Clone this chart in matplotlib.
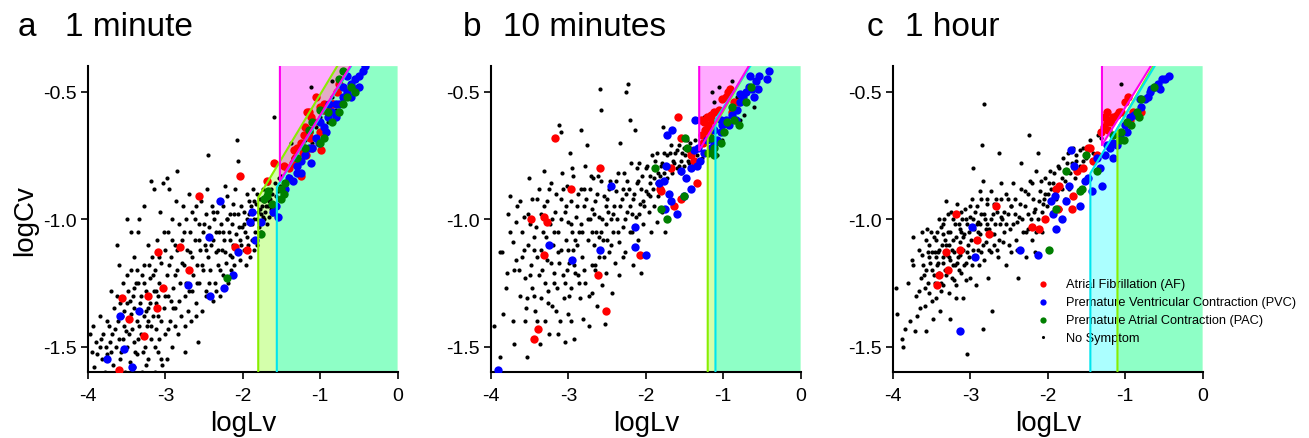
import numpy as np
import matplotlib
matplotlib.use("Agg")
import matplotlib.pyplot as plt

plt.rcParams['font.family'] = ['Liberation Sans', 'DejaVu Sans']
plt.rcParams['axes.unicode_minus'] = False

# ---------------- data (logLv, logCv) ----------------
panel_letters = ['a', 'b', 'c']
panel_titles = ['1 minute', '10 minutes', '1 hour']

# thresholds: vertical x, corner y, x where the diagonal meets the top (y=-0.4)
af_bound = [(-1.52, -0.85, -0.61), (-1.31, -0.73, -0.67), (-1.30, -0.71, -0.67)]
pac_bound = [(-1.80, -0.915, -0.78), (-1.20, -0.68, -0.66), (-1.10, -0.645, -0.64)]
pvc_bound = [(-1.56, -0.875, -0.60), (-1.10, -0.61, -0.65), (-1.45, -0.82, -0.62)]

# panel a : 1 minute
a_af = [(-1.60, -0.78), (-2.04, -0.83), (-2.57, -0.91), (-2.81, -1.11), (-3.10, -1.13), (-2.69, -1.20),
        (-3.03, -1.27), (-3.22, -1.30), (-3.56, -1.31), (-3.11, -1.35), (-3.47, -1.39), (-3.28, -1.46),
        (-3.60, -1.59), (-2.10, -1.11), (-1.95, -1.12), (-1.69, -0.85), (-1.47, -0.79), (-1.34, -0.73),
        (-1.21, -0.67), (-1.18, -0.75), (-0.99, -0.73), (-0.97, -0.57), (-0.83, -0.55), (-1.15, -0.58),
        (-1.17, -0.58), (-1.12, -0.60), (-1.08, -0.62), (-1.20, -0.64), (-1.15, -0.66), (-1.25, -0.70),
        (-1.30, -0.72), (-1.22, -0.74), (-1.35, -0.78), (-1.40, -0.80), (-1.00, -0.56), (-0.95, -0.55),
        (-1.05, -0.52), (-0.85, -0.55), (-0.90, -0.57), (-1.10, -0.72), (-1.25, -0.83), (-1.32, -0.76),
        (-1.00, -0.66), (-1.13, -0.68), (-0.78, -0.50), (-0.75, -0.47)]
a_pvc = [(-2.30, -0.93), (-2.43, -1.07), (-1.88, -0.97), (-1.90, -1.01), (-1.84, -1.08), (-1.76, -1.01),
         (-2.06, -1.13), (-2.12, -1.22), (-2.24, -1.27), (-2.42, -1.30), (-2.71, -1.26), (-3.34, -1.36),
         (-3.58, -1.38), (-3.53, -1.51), (-3.76, -1.55), (-3.43, -1.58), (-1.61, -0.97), (-1.55, -0.99),
         (-1.57, -0.95), (-1.45, -0.88), (-1.40, -0.84), (-1.30, -0.79), (-1.20, -0.75), (-1.25, -0.77),
         (-1.10, -0.72), (-1.05, -0.68), (-0.95, -0.64), (-1.00, -0.62), (-0.90, -0.60), (-0.85, -0.58),
         (-0.80, -0.55), (-0.70, -0.52), (-0.65, -0.50), (-0.60, -0.47), (-0.55, -0.45), (-0.50, -0.44),
         (-0.45, -0.42), (-0.42, -0.40), (-0.60, -0.52), (-0.55, -0.49), (-0.70, -0.48), (-0.75, -0.55),
         (-1.15, -0.72), (-1.30, -0.82), (-1.35, -0.85), (-0.50, -0.48), (-0.65, -0.44), (-0.80, -0.60),
         (-0.88, -0.55), (-1.25, -0.82), (-1.02, -0.70), (-1.12, -0.78), (-0.92, -0.66)]
a_pac = [(-2.20, -1.23), (-1.72, -0.92), (-1.69, -0.91), (-1.76, -1.06), (-1.51, -0.92), (-1.47, -0.90),
         (-1.50, -0.88), (-1.45, -0.86), (-1.20, -0.72), (-1.00, -0.70), (-0.95, -0.68), (-1.10, -0.62),
         (-0.90, -0.58), (-0.75, -0.58), (-0.70, -0.55), (-0.65, -0.52), (-0.60, -0.48), (-0.55, -0.50),
         (-0.75, -0.45), (-1.15, -0.65), (-1.30, -0.76), (-0.85, -0.62), (-0.70, -0.42), (-1.00, -0.57),
         (-1.62, -0.94), (-1.68, -0.89)]
a_none = [(-3.98, -1.45), (-3.95, -1.52), (-3.90, -1.48), (-3.92, -1.58), (-3.85, -1.50), (-3.82, -1.55),
          (-3.80, -1.45), (-3.78, -1.60), (-3.75, -1.40), (-3.72, -1.48), (-3.70, -1.52), (-3.68, -1.57),
          (-3.66, -1.35), (-3.65, -1.43), (-3.62, -1.30), (-3.60, -1.47), (-3.58, -1.55), (-3.56, -1.38),
          (-3.55, -1.25), (-3.54, -1.42), (-3.52, -1.60), (-3.50, -1.33), (-3.50, -1.50), (-3.48, -1.28),
          (-3.47, -1.45), (-3.46, -1.56), (-3.45, -1.20), (-3.44, -1.37), (-3.50, -1.00), (-3.42, -1.30),
          (-3.41, -1.48), (-3.40, -1.15), (-3.40, -1.58), (-3.38, -1.25), (-3.37, -1.40), (-3.36, -1.53),
          (-3.35, -1.05), (-3.34, -1.00), (-3.33, -1.33), (-3.32, -1.45), (-3.30, -1.22), (-3.30, -1.60),
          (-3.28, -1.38), (-3.27, -1.18), (-3.26, -1.50), (-3.25, -1.28), (-3.24, -1.42), (-3.23, -1.10),
          (-3.22, -1.55), (-3.20, -1.33), (-3.20, -1.23), (-3.19, -1.47), (-3.18, -0.85), (-3.17, -1.15),
          (-3.16, -1.38), (-3.15, -1.28), (-3.14, -1.60), (-3.13, -1.20), (-3.12, -1.43), (-3.11, -1.08),
          (-3.10, -1.52), (-3.09, -1.30), (-3.08, -1.25), (-3.07, -0.97), (-3.06, -1.40), (-3.05, -1.17),
          (-3.04, -1.57), (-3.03, -0.86), (-3.02, -1.35), (-3.01, -1.12), (-3.00, -1.45), (-2.98, -1.22),
          (-2.97, -1.05), (-2.96, -1.30), (-2.95, -0.88), (-2.94, -1.40), (-2.93, -1.15), (-2.92, -1.50),
          (-2.91, -1.00), (-2.90, -1.27), (-2.88, -1.10), (-2.87, -1.35), (-2.86, -0.93), (-2.85, -1.20),
          (-2.84, -1.45), (-2.83, -1.02), (-2.85, -0.81), (-2.81, -1.25), (-2.80, -1.38), (-2.78, -1.08),
          (-2.77, -0.95), (-2.76, -1.18), (-2.75, -1.30), (-2.74, -1.52), (-2.73, -1.00), (-2.72, -1.12),
          (-2.70, -0.90), (-2.69, -1.28), (-2.68, -1.05), (-2.67, -1.40), (-2.66, -1.15), (-2.65, -0.97),
          (-2.64, -1.22), (-2.62, -1.08), (-2.61, -1.33), (-2.60, -0.95), (-2.59, -1.18), (-2.58, -1.48),
          (-2.57, -1.02), (-2.56, -1.25), (-2.55, -1.12), (-2.54, -0.93), (-2.53, -1.36), (-2.52, -1.05),
          (-2.51, -1.20), (-2.49, -1.10), (-2.48, -0.98), (-2.47, -1.28), (-2.46, -0.88), (-2.45, -1.15),
          (-2.45, -0.75), (-2.43, -1.03), (-2.42, -1.20), (-2.40, -0.95), (-2.39, -1.32), (-2.38, -1.08),
          (-2.37, -1.00), (-2.36, -1.25), (-2.35, -1.13), (-2.33, -0.97), (-2.32, -1.18), (-2.31, -1.05),
          (-2.30, -1.30), (-2.28, -1.02), (-2.27, -1.12), (-2.26, -0.95), (-2.25, -1.22), (-2.24, -1.08),
          (-2.23, -0.87), (-2.22, -1.17), (-2.21, -1.00), (-2.20, -0.91), (-2.19, -1.25), (-2.18, -1.05),
          (-2.17, -0.98), (-2.16, -1.14), (-2.15, -1.20), (-2.14, -1.02), (-2.13, -0.94), (-2.12, -1.10),
          (-2.11, -1.18), (-2.10, -0.88), (-2.09, -1.06), (-2.06, -0.77), (-2.07, -1.13), (-2.06, -0.98),
          (-2.08, -0.69), (-2.04, -1.08), (-2.03, -1.16), (-2.02, -0.95), (-2.01, -1.03), (-1.99, -1.12),
          (-1.98, -0.97), (-1.97, -1.05), (-1.96, -1.18), (-1.95, -0.90), (-1.94, -1.00), (-1.93, -1.10),
          (-1.92, -0.93), (-1.91, -1.15), (-1.90, -1.02), (-1.89, -0.95), (-1.88, -1.08), (-1.87, -0.88),
          (-1.86, -1.12), (-1.85, -1.00), (-1.84, -1.05), (-1.83, -0.94), (-1.82, -0.90), (-1.81, -1.10),
          (-1.80, -0.97), (-1.79, -1.03), (-1.78, -0.92), (-1.77, -0.98), (-1.76, -1.05), (-1.75, -0.95),
          (-1.74, -0.88), (-1.73, -1.00), (-1.72, -0.93), (-1.71, -0.97), (-1.70, -0.90), (-1.69, -1.02),
          (-1.68, -0.95), (-1.67, -0.86), (-1.66, -0.99), (-1.65, -0.92), (-1.64, -0.88), (-1.63, -0.96),
          (-1.62, -0.90), (-1.60, -0.60), (-1.60, -0.94), (-1.58, -0.86), (-1.57, -0.91), (-1.55, -0.89),
          (-1.53, -0.84), (-1.52, -0.87), (-1.50, -0.83), (-1.45, -0.80), (-1.42, -0.83), (-1.38, -0.79),
          (-1.35, -0.76), (-1.30, -0.73), (-1.28, -0.77), (-1.25, -0.70), (-1.20, -0.69), (-1.18, -0.73),
          (-1.12, -0.66), (-1.10, -0.70), (-1.05, -0.64), (-1.00, -0.60), (-0.98, -0.65), (-0.95, -0.58),
          (-0.90, -0.62), (-0.88, -0.55), (-0.85, -0.52), (-0.80, -0.57), (-0.75, -0.50), (-0.72, -0.53),
          (-1.12, -0.48), (-1.38, -0.70), (-0.85, -0.46), (-3.62, -1.10), (-3.70, -1.28), (-3.45, -1.05),
          (-3.28, -0.95), (-3.15, -0.88), (-2.98, -0.84), (-2.93, -1.32), (-2.75, -1.42), (-2.60, -1.38),
          (-2.48, -1.30), (-2.35, -1.28), (-3.55, -1.47), (-3.35, -1.47), (-3.25, -1.36), (-3.12, -1.33),
          (-3.08, -1.47), (-2.88, -1.42), (-3.60, -1.18), (-3.85, -1.38), (-3.75, -1.53), (-3.40, -1.35),
          (-3.22, -1.40), (-3.35, -1.25), (-2.98, -1.55)]
a_none_dense = [(-3.93, -1.42), (-3.88, -1.53), (-3.83, -1.47), (-3.77, -1.50), (-3.73, -1.42), (-3.69, -1.45),
                (-3.64, -1.50), (-3.61, -1.40), (-3.59, -1.33), (-3.57, -1.52), (-3.53, -1.36), (-3.51, -1.44),
                (-3.49, -1.22), (-3.46, -1.32), (-3.43, -1.43), (-3.41, -1.27), (-3.39, -1.52), (-3.36, -1.20),
                (-3.34, -1.42), (-3.31, -1.30), (-3.29, -1.52), (-3.27, -1.25), (-3.25, -1.57), (-3.23, -1.35),
                (-3.21, -1.18), (-3.18, -1.42), (-3.16, -1.22), (-3.14, -1.50), (-3.12, -1.28), (-3.10, -1.38),
                (-3.08, -1.15), (-3.06, -1.55), (-3.04, -1.27), (-3.02, -1.05), (-3.00, -1.30), (-2.97, -1.43),
                (-2.95, -1.18), (-2.92, -1.08), (-2.90, -1.35), (-2.87, -1.22), (-2.85, -1.12), (-2.82, -1.32),
                (-2.79, -1.17), (-2.76, -1.05), (-2.73, -1.25), (-2.71, -1.36), (-2.68, -1.13), (-2.65, -1.28),
                (-2.62, -1.00), (-2.59, -1.25), (-2.56, -1.08), (-2.53, -1.18), (-2.50, -1.02), (-2.47, -1.12),
                (-2.44, -1.25), (-2.41, -1.10), (-2.38, -0.97), (-2.35, -1.05), (-2.32, -1.12), (-2.29, -1.20),
                (-2.26, -1.05), (-2.23, -1.13), (-2.20, -1.00), (-2.17, -1.08), (-2.14, -1.15), (-2.11, -0.98),
                (-2.08, -1.12), (-2.05, -1.03), (-2.02, -1.10), (-1.98, -1.02), (-1.95, -1.07), (-1.92, -0.98),
                (-1.88, -1.02), (-1.85, -0.93), (-1.81, -1.00), (-1.78, -0.96), (-1.74, -0.99), (-1.70, -0.95),
                (-1.66, -0.93), (-1.62, -0.98)]

# panel b : 10 minutes
b_af = [(-3.17, -0.68), (-2.59, -0.80), (-2.97, -0.88), (-3.48, -1.00), (-3.32, -0.99), (-3.28, -1.01),
        (-3.32, -1.14), (-2.62, -1.22), (-2.51, -1.36), (-3.39, -1.43), (-3.45, -1.47), (-2.08, -1.14),
        (-1.59, -0.60), (-1.55, -0.68), (-1.43, -0.73), (-1.41, -0.75), (-1.38, -0.77), (-1.68, -0.80),
        (-1.82, -0.88), (-1.80, -0.89), (-1.63, -0.95), (-1.55, -0.92), (-1.34, -0.86), (-1.25, -0.62),
        (-1.21, -0.60), (-1.16, -0.59), (-1.12, -0.58), (-1.06, -0.57), (-1.01, -0.53), (-0.97, -0.52),
        (-0.94, -0.50), (-0.91, -0.49), (-0.86, -0.54), (-0.80, -0.54), (-0.88, -0.58), (-1.23, -0.65),
        (-1.27, -0.67), (-1.20, -0.63), (-1.15, -0.61), (-1.29, -0.61), (-1.26, -0.70), (-1.18, -0.66)]
b_pvc = [(-3.91, -1.59), (-3.25, -1.10), (-2.95, -1.16), (-2.59, -1.12), (-2.45, -0.87), (-2.14, -1.03),
         (-2.14, -1.11), (-2.00, -1.14), (-1.73, -0.67), (-1.66, -0.65), (-1.37, -0.61), (-1.74, -0.79),
         (-1.76, -0.85), (-1.83, -0.86), (-1.70, -0.90), (-1.68, -0.93), (-1.75, -0.96), (-1.60, -0.98),
         (-1.51, -0.91), (-1.42, -0.88), (-1.55, -0.81), (-1.42, -0.80), (-1.34, -0.79), (-1.38, -0.73),
         (-1.25, -0.74), (-1.16, -0.72), (-1.08, -0.69), (-1.03, -0.66), (-1.01, -0.63), (-0.96, -0.61),
         (-0.88, -0.59), (-0.82, -0.57), (-0.78, -0.54), (-0.75, -0.52), (-0.71, -0.50), (-0.67, -0.48),
         (-0.63, -0.49), (-0.58, -0.46), (-0.55, -0.49), (-0.54, -0.44), (-0.43, -0.45), (-0.41, -0.42),
         (-0.78, -0.51), (-1.03, -0.61), (-1.12, -0.65), (-0.93, -0.63), (-0.84, -0.61), (-1.21, -0.69),
         (-1.32, -0.72), (-1.12, -0.70), (-0.60, -0.52), (-0.65, -0.44), (-1.48, -0.84), (-1.30, -0.77)]
b_pac = [(-1.88, -0.80), (-1.81, -0.96), (-1.72, -1.00), (-1.50, -0.91), (-1.49, -0.68), (-1.47, -0.72),
         (-1.16, -0.68), (-1.12, -0.72), (-1.19, -0.74), (-1.12, -0.75), (-1.03, -0.70), (-0.99, -0.66),
         (-0.95, -0.62), (-0.86, -0.61), (-0.88, -0.56), (-0.80, -0.63), (-0.71, -0.54), (-0.64, -0.48)]
b_none = [(-3.96, -1.42), (-3.88, -1.54), (-3.89, -1.13), (-3.86, -1.13), (-3.78, -0.98), (-3.76, -0.91),
          (-3.79, -1.21), (-3.84, -1.37), (-3.72, -1.09), (-3.68, -1.01), (-3.68, -1.16), (-3.71, -1.40),
          (-3.70, -1.49), (-3.62, -0.93), (-3.60, -1.05), (-3.58, -1.12), (-3.56, -1.23), (-3.54, -1.31),
          (-3.53, -1.54), (-3.51, -0.84), (-3.49, -1.02), (-3.48, -1.18), (-3.47, -1.27), (-3.45, -1.07),
          (-3.43, -1.36), (-3.41, -0.92), (-3.40, -1.15), (-3.38, -1.22), (-3.37, -1.49), (-3.36, -0.98),
          (-3.35, -1.31), (-3.33, -1.05), (-3.31, -0.81), (-3.30, -1.25), (-3.28, -0.93), (-3.28, -1.16),
          (-3.25, -1.45), (-3.24, -1.02), (-3.22, -0.86), (-3.21, -1.34), (-3.20, -1.10), (-3.19, -1.21),
          (-3.17, -0.97), (-3.16, -1.36), (-3.15, -1.27), (-3.13, -1.05), (-3.12, -0.63), (-3.12, -1.17),
          (-3.10, -0.92), (-3.09, -0.66), (-3.08, -0.82), (-3.07, -1.22), (-3.06, -1.31), (-3.05, -1.48),
          (-3.04, -0.97), (-3.03, -1.08), (-3.02, -0.87), (-3.01, -1.01), (-3.00, -1.37), (-2.99, -1.17),
          (-2.98, -0.74), (-2.97, -1.27), (-2.96, -0.93), (-2.95, -1.05), (-2.94, -0.83), (-2.93, -1.47),
          (-2.92, -1.21), (-2.90, -0.99), (-2.89, -1.10), (-2.87, -0.90), (-2.85, -1.31), (-2.84, -0.65),
          (-2.84, -1.02), (-2.82, -1.15), (-2.81, -1.39), (-2.80, -0.95), (-2.78, -0.79), (-2.78, -1.25),
          (-2.76, -0.71), (-2.75, -1.08), (-2.74, -1.42), (-2.72, -0.88), (-2.72, -1.00), (-2.70, -1.18),
          (-2.69, -1.29), (-2.68, -0.84), (-2.67, -1.10), (-2.66, -0.93), (-2.64, -1.05), (-2.63, -1.34),
          (-2.62, -0.83), (-2.61, -1.15), (-2.60, -0.99), (-2.59, -0.49), (-2.58, -0.57), (-2.56, -1.26),
          (-2.55, -1.08), (-2.54, -0.91), (-2.53, -1.41), (-2.52, -1.02), (-2.51, -1.21), (-2.49, -0.97),
          (-2.48, -1.13), (-2.46, -0.85), (-2.44, -1.29), (-2.43, -1.05), (-2.41, -0.95), (-2.40, -1.17),
          (-2.38, -0.89), (-2.37, -1.00), (-2.35, -1.22), (-2.34, -1.09), (-2.33, -0.70), (-2.31, -0.92),
          (-2.30, -1.03), (-2.28, -0.82), (-2.27, -1.13), (-2.25, -0.50), (-2.24, -0.97), (-2.23, -0.47),
          (-2.22, -0.88), (-2.21, -1.05), (-2.20, -0.61), (-2.19, -0.78), (-2.17, -0.92), (-2.16, -1.18),
          (-2.14, -0.65), (-2.13, -0.99), (-2.12, -0.86), (-2.10, -1.08), (-2.09, -0.78), (-2.07, -0.94),
          (-2.06, -1.21), (-2.05, -0.83), (-2.03, -1.02), (-2.00, -0.89), (-1.98, -0.79), (-1.96, -0.97),
          (-1.95, -0.86), (-1.93, -1.05), (-1.92, -0.75), (-1.90, -0.95), (-1.89, -0.84), (-1.86, -0.74),
          (-1.86, -1.01), (-1.84, -0.91), (-1.81, -0.79), (-1.79, -0.97), (-1.78, -0.64), (-1.77, -0.74),
          (-1.75, -1.05), (-1.73, -0.84), (-1.72, -0.75), (-1.68, -0.71), (-1.65, -0.77), (-1.62, -0.74),
          (-1.60, -0.80), (-1.57, -0.71), (-1.55, -0.77), (-1.53, -0.74), (-1.51, -0.79), (-1.49, -0.75),
          (-1.47, -0.69), (-1.44, -0.78), (-1.42, -0.74), (-1.40, -0.77), (-1.37, -0.69), (-1.34, -0.75),
          (-1.30, -0.71), (-1.27, -0.76), (-1.12, -0.54), (-1.06, -0.48), (-0.88, -0.46), (-1.25, -0.60),
          (-1.14, -0.50), (-1.08, -0.75), (-1.01, -0.69), (-0.78, -0.61), (-0.82, -0.52), (-0.60, -0.56),
          (-0.73, -0.59), (-3.64, -1.20), (-3.52, -0.98), (-3.44, -1.12), (-3.26, -1.28), (-3.18, -1.05),
          (-3.02, -1.20), (-2.94, -1.12), (-2.86, -1.05), (-2.70, -0.96), (-2.58, -1.05), (-2.45, -1.00),
          (-2.36, -0.82), (-2.26, -0.90), (-2.18, -0.98), (-2.02, -0.95), (-1.94, -0.91), (-1.84, -0.82),
          (-3.30, -1.40), (-3.14, -1.45), (-2.96, -1.40), (-2.88, -1.22), (-2.66, -1.18), (-3.56, -1.40),
          (-3.80, -1.27), (-3.10, -1.12), (-2.80, -0.88), (-2.50, -0.92), (-2.30, -1.15), (-2.10, -0.85)]
b_none_dense = [(-3.75, -1.05), (-3.70, -1.20), (-3.66, -0.95), (-3.63, -1.30), (-3.60, -1.15), (-3.57, -0.99),
                (-3.55, -1.35), (-3.52, -1.10), (-3.50, -1.22), (-3.47, -0.92), (-3.45, -1.30), (-3.42, -1.03),
                (-3.40, -1.40), (-3.38, -0.88), (-3.36, -1.12), (-3.34, -1.20), (-3.32, -0.95), (-3.29, -1.07),
                (-3.27, -1.33), (-3.25, -0.88), (-3.23, -1.17), (-3.21, -1.00), (-3.18, -1.25), (-3.16, -0.90),
                (-3.14, -1.13), (-3.11, -1.40), (-3.09, -1.00), (-3.07, -0.88), (-3.05, -1.25), (-3.03, -0.95),
                (-3.01, -1.12), (-2.99, -1.30), (-2.97, -1.02), (-2.95, -0.80), (-2.93, -1.18), (-2.91, -1.08),
                (-2.89, -0.95), (-2.86, -1.25), (-2.84, -0.88), (-2.82, -1.05), (-2.80, -1.20), (-2.77, -0.92),
                (-2.75, -1.00), (-2.73, -1.30), (-2.71, -0.83), (-2.69, -1.05), (-2.67, -0.98), (-2.65, -1.20),
                (-2.63, -0.90), (-2.61, -1.07), (-2.58, -0.85), (-2.56, -1.00), (-2.54, -1.15), (-2.52, -0.95),
                (-2.50, -1.08), (-2.47, -0.88), (-2.45, -1.10), (-2.42, -0.98), (-2.39, -0.85), (-2.36, -1.05),
                (-2.33, -0.95), (-2.30, -0.88), (-2.27, -1.00), (-2.24, -0.85), (-2.21, -0.95), (-2.18, -1.05),
                (-2.15, -0.90), (-2.12, -0.80), (-2.09, -0.98), (-2.06, -0.88), (-2.03, -0.93), (-2.00, -0.80),
                (-1.97, -0.90), (-1.94, -0.83), (-1.91, -0.88), (-1.88, -0.77), (-1.85, -0.86), (-1.82, -0.83),
                (-1.79, -0.78), (-1.76, -0.82), (-1.72, -0.79), (-1.69, -0.74), (-1.66, -0.82), (-1.63, -0.78),
                (-1.60, -0.73), (-1.57, -0.79), (-1.54, -0.82), (-1.50, -0.72), (-1.46, -0.77), (-1.43, -0.70)]

# panel c : 1 hour
c_af = [(-3.19, -0.98), (-2.67, -0.95), (-3.32, -1.13), (-3.14, -1.12), (-2.92, -1.08), (-2.76, -1.06),
        (-3.41, -1.22), (-3.43, -1.26), (-3.29, -1.20), (-2.20, -1.03), (-2.12, -1.04), (-2.04, -1.00),
        (-1.90, -0.88), (-1.85, -0.87), (-1.87, -0.96), (-1.68, -0.91), (-1.69, -0.96), (-1.62, -0.81),
        (-1.54, -0.80), (-1.46, -0.72), (-1.48, -0.72), (-1.37, -0.75), (-1.42, -0.77), (-1.26, -0.60),
        (-1.24, -0.62), (-1.20, -0.61), (-1.16, -0.60), (-1.11, -0.59), (-1.08, -0.58), (-1.05, -0.58),
        (-1.00, -0.54), (-0.96, -0.52), (-0.90, -0.58), (-0.79, -0.58), (-1.28, -0.64), (-1.22, -0.65),
        (-1.18, -0.62), (-1.31, -0.66), (-1.23, -0.58), (-0.94, -0.61)]
c_pvc = [(-3.13, -1.44), (-2.98, -1.03), (-2.94, -1.15), (-2.36, -1.12), (-2.13, -1.14), (-1.90, -1.04),
         (-1.93, -0.98), (-1.81, -1.00), (-1.96, -0.93), (-1.91, -0.91), (-1.76, -0.93), (-1.59, -0.95),
         (-1.72, -0.87), (-1.66, -0.79), (-1.70, -0.73), (-1.43, -0.89), (-1.30, -0.87), (-1.48, -0.84),
         (-1.37, -0.76), (-1.33, -0.80), (-1.26, -0.75), (-1.20, -0.72), (-1.16, -0.76), (-1.10, -0.71),
         (-1.07, -0.67), (-1.00, -0.63), (-0.94, -0.60), (-0.88, -0.59), (-0.79, -0.56), (-0.75, -0.53),
         (-0.70, -0.52), (-0.66, -0.49), (-0.62, -0.48), (-0.57, -0.47), (-0.55, -0.49), (-0.53, -0.45),
         (-0.49, -0.45), (-0.44, -0.44), (-0.68, -0.50), (-0.81, -0.53), (-0.98, -0.66), (-1.16, -0.70),
         (-1.24, -0.71), (-1.52, -0.85)]
c_pac = [(-1.98, -1.12), (-1.89, -0.96), (-1.76, -0.81), (-1.59, -0.89), (-1.56, -0.88), (-1.51, -0.75),
         (-1.37, -0.81), (-1.16, -0.67), (-1.07, -0.69), (-1.05, -0.66), (-0.98, -0.62), (-0.92, -0.63),
         (-0.85, -0.58), (-0.82, -0.60), (-0.80, -0.53), (-0.63, -0.48), (-1.02, -0.69)]
c_none = [(-3.96, -1.27), (-3.95, -1.37), (-3.89, -1.47), (-3.85, -1.43), (-3.87, -1.50), (-3.74, -1.07),
          (-3.76, -1.16), (-3.74, -1.18), (-3.71, -1.44), (-3.69, -1.38), (-3.67, -1.28), (-3.66, -1.12),
          (-3.64, -1.23), (-3.63, -1.05), (-3.61, -1.18), (-3.59, -1.34), (-3.59, -1.27), (-3.57, -1.44),
          (-3.56, -1.04), (-3.55, -1.13), (-3.54, -1.10), (-3.53, -1.29), (-3.50, -1.20), (-3.48, -1.39),
          (-3.47, -1.07), (-3.46, -1.25), (-3.45, -1.15), (-3.44, -1.31), (-3.43, -1.05), (-3.42, -1.13),
          (-3.40, -1.21), (-3.39, -1.36), (-3.38, -1.03), (-3.37, -1.10), (-3.36, -1.26), (-3.35, -1.17),
          (-3.34, -1.00), (-3.33, -1.08), (-3.32, -0.93), (-3.31, -1.22), (-3.30, -1.14), (-3.29, -1.05),
          (-3.28, -1.29), (-3.27, -1.10), (-3.26, -1.39), (-3.25, -0.97), (-3.23, -1.18), (-3.22, -1.08),
          (-3.21, -1.13), (-3.20, -1.02), (-3.19, -1.26), (-3.18, -1.31), (-3.17, -0.94), (-3.16, -1.15),
          (-3.14, -1.09), (-3.14, -1.04), (-3.12, -1.21), (-3.11, -1.00), (-3.10, -1.12), (-3.09, -1.31),
          (-3.08, -1.06), (-3.07, -0.96), (-3.06, -1.17), (-3.05, -1.53), (-3.04, -1.02), (-3.03, -1.10),
          (-3.01, -1.23), (-3.00, -0.99), (-2.99, -1.08), (-2.98, -0.92), (-2.97, -1.15), (-2.96, -0.80),
          (-2.95, -1.04), (-2.94, -0.97), (-2.93, -1.26), (-2.92, -1.08), (-2.90, -1.01), (-2.89, -1.18),
          (-2.88, -0.89), (-2.87, -1.06), (-2.86, -1.13), (-2.85, -0.71), (-2.84, -0.85), (-2.84, -1.43),
          (-2.83, -0.55), (-2.81, -1.00), (-2.80, -1.09), (-2.79, -0.94), (-2.77, -1.23), (-2.76, -1.04),
          (-2.74, -0.89), (-2.73, -1.13), (-2.72, -1.36), (-2.71, -0.98), (-2.69, -1.06), (-2.67, -0.92),
          (-2.64, -1.15), (-2.63, -0.74), (-2.62, -1.02), (-2.60, -0.86), (-2.58, -1.09), (-2.56, -0.97),
          (-2.54, -1.18), (-2.51, -0.92), (-2.49, -1.04), (-2.47, -1.13), (-2.45, -0.86), (-2.43, -0.98),
          (-2.41, -1.08), (-2.38, -1.23), (-2.36, -0.94), (-2.34, -0.78), (-2.32, -1.05), (-2.30, -0.89),
          (-2.28, -1.15), (-2.25, -0.98), (-2.24, -0.67), (-2.23, -0.85), (-2.21, -1.08), (-2.19, -0.92),
          (-2.17, -1.13), (-2.15, -0.81), (-2.13, -0.74), (-2.13, -1.00), (-2.10, -0.89), (-2.08, -1.05),
          (-2.06, -0.94), (-2.04, -0.84), (-2.02, -1.00), (-2.00, -0.90), (-1.97, -0.81), (-1.95, -0.97),
          (-1.93, -0.86), (-1.91, -1.04), (-1.89, -0.92), (-1.87, -0.79), (-1.84, -0.96), (-1.82, -0.84),
          (-1.80, -0.76), (-1.78, -0.92), (-1.76, -0.81), (-1.74, -0.74), (-1.72, -0.88), (-1.69, -0.78),
          (-1.67, -0.72), (-1.65, -0.84), (-1.63, -0.75), (-1.59, -0.79), (-1.54, -0.72), (-1.50, -0.76),
          (-1.46, -0.69), (-1.41, -0.74), (-1.35, -0.67), (-1.31, -0.68), (-1.05, -0.47), (-3.58, -1.20),
          (-3.50, -1.32), (-3.42, -1.17), (-3.36, -1.06), (-3.24, -1.23), (-3.15, -1.20), (-3.06, -1.24),
          (-2.96, -1.12), (-2.90, -1.05), (-2.82, -1.16), (-2.78, -1.02), (-2.66, -1.12), (-2.54, -1.02),
          (-3.52, -1.17), (-3.46, -1.13), (-3.38, -1.28), (-3.26, -1.16), (-3.20, -1.18), (-3.12, -1.05),
          (-3.02, -1.15), (-2.92, -1.02), (-2.86, -0.98), (-2.70, -1.10), (-2.60, -0.99), (-2.48, -0.95),
          (-2.40, -1.01), (-2.26, -1.04), (-2.16, -0.96), (-2.05, -0.92), (-1.96, -0.88)]
c_none_dense = [(-3.62, -1.14), (-3.60, -1.22), (-3.57, -1.08), (-3.55, -1.25), (-3.53, -1.15), (-3.51, -1.05),
                (-3.49, -1.13), (-3.47, -1.22), (-3.45, -1.08), (-3.43, -1.18), (-3.41, -1.00), (-3.40, -1.12),
                (-3.38, -1.25), (-3.36, -1.15), (-3.35, -1.02), (-3.33, -1.20), (-3.31, -1.10), (-3.29, -0.98),
                (-3.28, -1.15), (-3.26, -1.05), (-3.24, -1.12), (-3.22, -1.00), (-3.21, -1.24), (-3.19, -1.07),
                (-3.17, -1.17), (-3.15, -1.02), (-3.13, -1.14), (-3.12, -0.97), (-3.10, -1.07), (-3.08, -1.18),
                (-3.06, -1.00), (-3.04, -1.13), (-3.02, -1.05), (-3.00, -0.95), (-2.98, -1.18), (-2.96, -1.00),
                (-2.94, -1.08), (-2.92, -0.95), (-2.90, -1.12), (-2.88, -1.02), (-2.86, -0.92), (-2.84, -1.10),
                (-2.82, -0.98), (-2.80, -1.04), (-2.78, -0.92), (-2.76, -1.12), (-2.74, -1.00), (-2.72, -1.06),
                (-2.70, -0.94), (-2.68, -1.02), (-2.66, -0.97), (-2.63, -1.08), (-2.61, -0.92), (-2.59, -1.00),
                (-2.56, -1.05), (-2.54, -0.90), (-2.52, -0.98), (-2.50, -1.10), (-2.47, -0.95), (-2.45, -1.02),
                (-2.42, -0.92), (-2.40, -1.12), (-2.37, -0.99), (-2.35, -0.88), (-2.33, -1.00), (-2.30, -0.95),
                (-2.28, -1.05), (-2.25, -0.90), (-2.22, -1.00), (-2.20, -0.86), (-2.18, -0.97), (-2.15, -1.05),
                (-2.12, -0.93), (-2.09, -0.85), (-2.07, -0.97), (-2.04, -0.90), (-2.01, -0.95), (-1.98, -0.86),
                (-1.95, -0.92), (-1.92, -0.82), (-1.88, -0.88), (-1.85, -0.80), (-1.81, -0.88), (-1.78, -0.85),
                (-1.75, -0.78), (-1.71, -0.82), (-1.67, -0.80), (-1.63, -0.77), (-1.58, -0.73), (-1.55, -0.77),
                (-3.70, -1.30), (-3.65, -1.35), (-3.80, -1.25), (-3.78, -1.40)]

panel_af = [a_af, b_af, c_af]
panel_pvc = [a_pvc, b_pvc, c_pvc]
panel_pac = [a_pac, b_pac, c_pac]
panel_none = [a_none + a_none_dense, b_none + b_none_dense, c_none + c_none_dense]

# ---------------- figure ----------------
fig = plt.figure(figsize=(13.09, 4.39), dpi=100)
lefts = [0.0672, 0.3751, 0.6822]
title_x = [(0.0138, 0.0497), (0.3537, 0.3843), (0.6623, 0.6914)]

YMIN, YMAX = -1.6, -0.4
fill_alpha = 0.33

for i in range(3):
    ax = fig.add_axes([lefts[i], 0.150, 0.2365, 0.697])

    # PAC region (chartreuse), PVC region (cyan), AF region (magenta)
    for bound, col in [(pac_bound[i], '#7fff00'), (pvc_bound[i], '#00ffff')]:
        x0, y0, x1 = bound
        ax.fill([x0, x0, x1, 0, 0], [YMIN, y0, YMAX, YMAX, YMIN], color=col, alpha=fill_alpha, lw=0, zorder=1)
    x0, y0, x1 = af_bound[i]
    ax.fill([x0, x0, x1], [y0, YMAX, YMAX], color='#ff00ff', alpha=fill_alpha, lw=0, zorder=1)

    none = np.array(panel_none[i])
    af = np.array(panel_af[i])
    pvc = np.array(panel_pvc[i])
    pac = np.array(panel_pac[i])
    ax.scatter(none[:, 0], none[:, 1], s=9, color='black', lw=0, zorder=3, label='No Symptom')
    ax.scatter(af[:, 0], af[:, 1], s=36, color='#ff0000', lw=0, zorder=4, label='Atrial Fibrillation (AF)')
    ax.scatter(pvc[:, 0], pvc[:, 1], s=36, color='#0000ff', lw=0, zorder=4,
               label='Premature Ventricular Contraction (PVC)')
    ax.scatter(pac[:, 0], pac[:, 1], s=36, color='#007f00', lw=0, zorder=5,
               label='Premature Atrial Contraction (PAC)')

    # boundary lines
    x0, y0, x1 = pac_bound[i]
    ax.plot([x0, x0, x1], [YMIN, y0, YMAX], color='#88ee00', lw=1.5, zorder=6)
    x0, y0, x1 = pvc_bound[i]
    ax.plot([x0, x0, x1], [YMIN, y0, YMAX], color='#00e5ee', lw=1.5, zorder=6)
    x0, y0, x1 = af_bound[i]
    ax.plot([x0, x0, x1], [YMAX, y0, YMAX], color='#ff00ee', lw=1.5, zorder=6)

    ax.set_xlim(-4, 0)
    ax.set_ylim(YMIN, YMAX)
    ax.set_xticks([-4, -3, -2, -1, 0])
    ax.set_xticklabels(['-4', '-3', '-2', '-1', '0'])
    ax.set_yticks([-1.5, -1.0, -0.5])
    ax.set_yticklabels(['-1.5', '-1.0', '-0.5'])
    ax.tick_params(labelsize=14, length=5, width=1.2, direction='out')
    ax.tick_params(axis='x', pad=6)
    ax.tick_params(axis='y', pad=3)
    for s in ['top', 'right']:
        ax.spines[s].set_visible(False)
    for s in ['left', 'bottom']:
        ax.spines[s].set_linewidth(1.5)
    ax.set_xlabel('logLv', fontsize=20, labelpad=4)
    if i == 0:
        ax.set_ylabel('logCv', fontsize=20, labelpad=4)

    fig.text(title_x[i][0], 0.918, panel_letters[i], fontsize=24, va='baseline')
    fig.text(title_x[i][1], 0.918, panel_titles[i], fontsize=24, va='baseline')

    if i == 2:
        h, l = ax.get_legend_handles_labels()
        order = [1, 2, 3, 0]
        ax.legend([h[k] for k in order], [l[k] for k in order], loc='upper left',
                  bbox_to_anchor=(1024 / 1309, 1 - 273 / 439), bbox_transform=fig.transFigure,
                  frameon=False, fontsize=9.2, handletextpad=0.8, labelspacing=0.45,
                  borderpad=0, markerscale=0.75, scatterpoints=1)

fig.savefig('out.png', dpi=100)
